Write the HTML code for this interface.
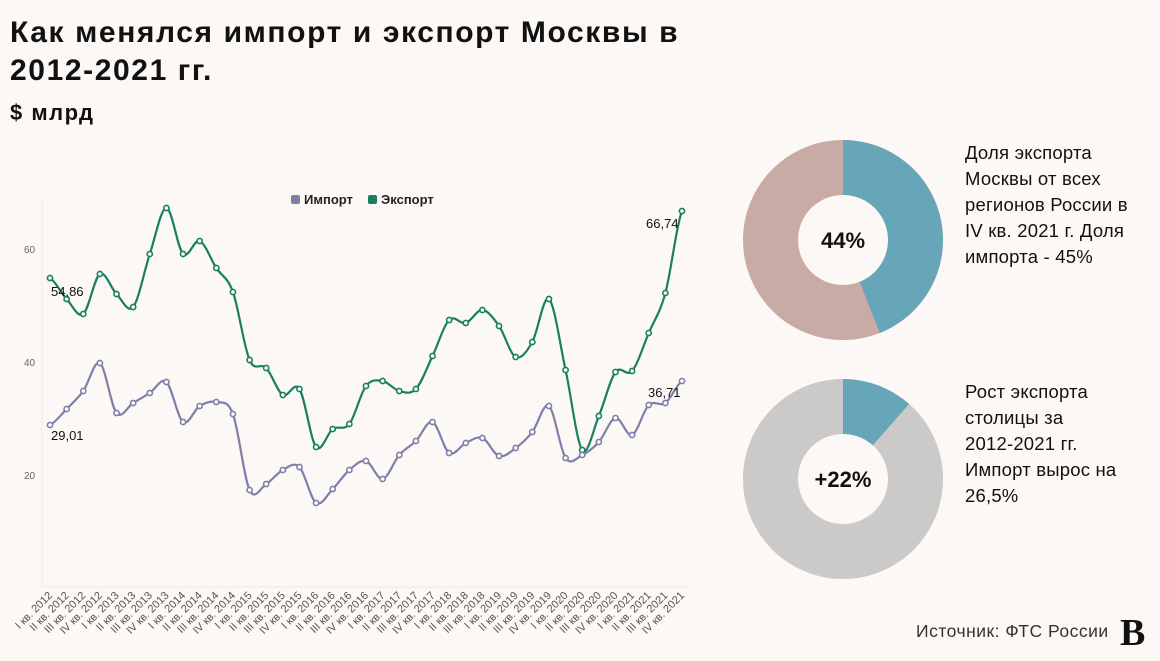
<!DOCTYPE html>
<html><head><meta charset="utf-8"><style>
body{margin:0;background:#fbf8f5;width:1160px;height:661px;overflow:hidden;font-family:"Liberation Sans","DejaVu Sans",sans-serif;}
.t{position:absolute;left:10px;top:14px;font-size:30px;font-weight:bold;color:#111;line-height:38px;letter-spacing:1.6px}
.s{position:absolute;left:10px;top:100px;font-size:22px;font-weight:bold;color:#111;letter-spacing:1.5px}
.d{position:absolute;left:965px;font-size:18.5px;color:#111;line-height:26px;letter-spacing:0.2px}
</style></head><body>
<div class="t">Как менялся импорт и экспорт Москвы в<br>2012-2021 гг.</div>
<div class="s">$ млрд</div>
<div class="d" style="top:140px">Доля экспорта<br>Москвы от всех<br>регионов России в<br>IV кв. 2021 г. Доля<br>импорта - 45%</div>
<div class="d" style="top:379px">Рост экспорта<br>столицы за<br>2012-2021 гг.<br>Импорт вырос на<br>26,5%</div>
<svg id="c" width="1160" height="661" style="position:absolute;left:0;top:0"></svg>
<script>
var E=[278,299,314,274,294,307,254,208,254,241,268,292,360,368,395,389,447,429,424,386,381,391,389,356,320,323,310,326,357,342,299,370,450,416,372,371,333,293,211];
var I=[425,409,391,363,413,403,393,382,422,406,402,414,490,484,470,467,503,489,470,461,479,455,441,422,453,443,438,456,448,432,406,458,455,442,418,435,405,403,381];
var r=["I","II","III","IV"],L=[];
for(var y=2012;y<=2021;y++)for(var q=0;q<4;q++){if(y==2018&&q==3)continue;L.push(r[q]+" кв. "+y);}
var X=function(i){return 50+i*(632/38)};
function path(a){var p="M"+X(0)+","+a[0];for(var i=0;i<a.length-1;i++){var p0=a[Math.max(i-1,0)],p3=a[Math.min(i+2,a.length-1)],h=632/38;
p+=" C"+(X(i)+h/3)+","+(a[i]+(a[i+1]-p0)/6)+" "+(X(i+1)-h/3)+","+(a[i+1]-(p3-a[i])/6)+" "+X(i+1)+","+a[i+1];}return p;}
var s='<line x1="42" y1="200" x2="42" y2="587" stroke="#eee"/><line x1="42" y1="587" x2="690" y2="587" stroke="#e8e8e8"/>';
[[60,249],[40,362],[20,475]].forEach(function(t){s+='<text x="24" y="'+(t[1]+4)+'" font-size="10" fill="#666">'+t[0]+'</text>';});
function ser(a,c){s+='<path d="'+path(a)+'" fill="none" stroke="'+c+'" stroke-width="2.2"/>';a.forEach(function(v,i){s+='<circle cx="'+X(i)+'" cy="'+v+'" r="2.6" fill="#fff" stroke="'+c+'" stroke-width="1.6"/>';});}
ser(E,"#1a7f5e");ser(I,"#7f7fa8");
L.forEach(function(l,i){s+='<text transform="translate('+(X(i)+3)+',596) rotate(-45)" text-anchor="end" font-size="11" fill="#555">'+l+'</text>';});
s+='<text x="51" y="296" font-size="13" fill="#111">54,86</text><text x="51" y="440" font-size="13" fill="#111">29,01</text>';
s+='<text x="646" y="228" font-size="13" fill="#111">66,74</text><text x="648" y="397" font-size="13" fill="#111">36,71</text>';
s+='<rect x="291" y="195" width="9" height="9" rx="2" fill="#7f7fa8"/><text x="304" y="204" font-size="13" font-weight="bold" fill="#222">Импорт</text>';
s+='<rect x="368" y="195" width="9" height="9" rx="2" fill="#1a7f5e"/><text x="381" y="204" font-size="13" font-weight="bold" fill="#222">Экспорт</text>';
function donut(cx,cy,f,c1,c2,lab){var R=100,r0=45,a=f*2*Math.PI,x=cx+R*Math.sin(a),y=cy-R*Math.cos(a);
s+='<circle cx="'+cx+'" cy="'+cy+'" r="'+R+'" fill="'+c2+'"/>';
s+='<path d="M'+cx+','+cy+' L'+cx+','+(cy-R)+' A'+R+','+R+' 0 '+(f>0.5?1:0)+' 1 '+x+','+y+' Z" fill="'+c1+'"/>';
s+='<circle cx="'+cx+'" cy="'+cy+'" r="'+r0+'" fill="#fbf8f5"/><text x="'+cx+'" y="'+(cy+8)+'" text-anchor="middle" font-size="22" font-weight="bold" fill="#111">'+lab+'</text>';}
donut(843,240,0.44,"#67a6b9","#c9aba6","44%");donut(843,479,0.115,"#67a6b9","#cbcac8","+22%");
s+='<text x="916" y="637" font-size="17.5" letter-spacing="0.5" fill="#333">Источник: ФТС России</text><text x="1120" y="645" font-size="38" font-weight="bold" font-family="Liberation Serif,serif" fill="#111">B</text>';
document.getElementById("c").innerHTML=s;
</script>
</body></html>
